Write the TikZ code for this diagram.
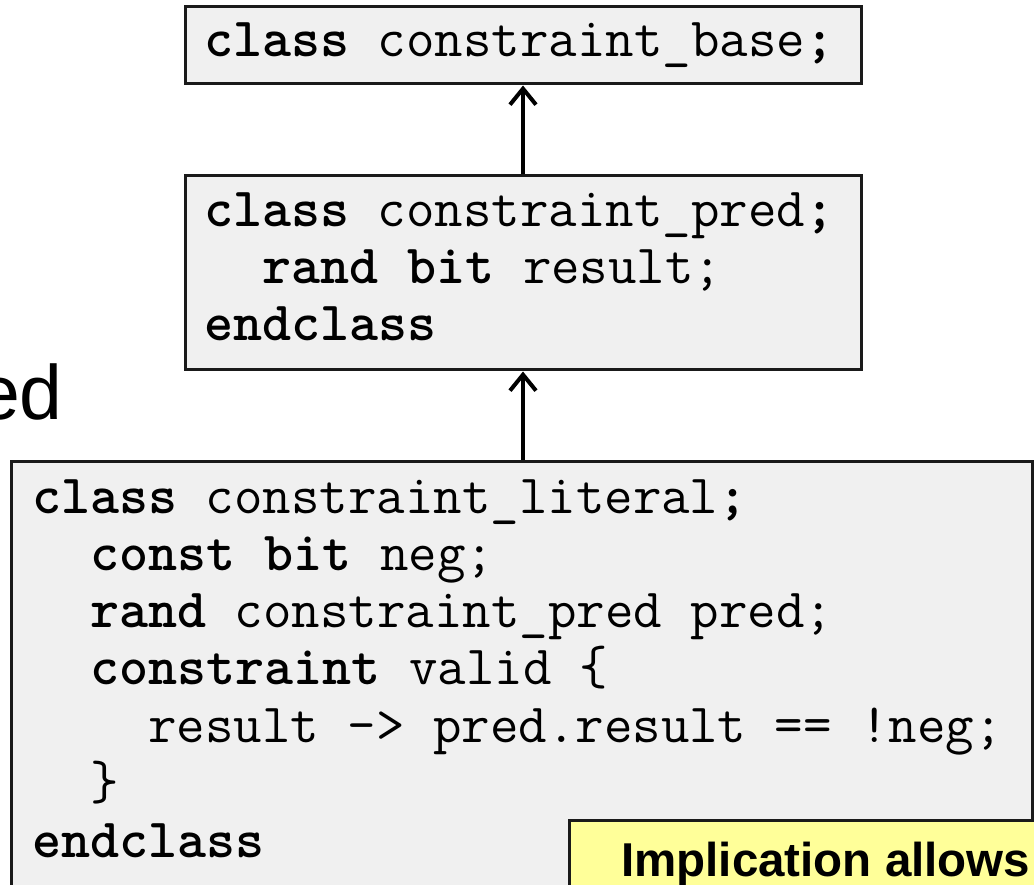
\documentclass[tikz,border=0pt]{standalone}
\usepackage{fontspec}
\setmainfont{Liberation Sans}
\usetikzlibrary{arrows.meta}
\definecolor{boxgray}{HTML}{F0F0F0}
\definecolor{noteyellow}{HTML}{FFFF99}
\definecolor{edgedark}{HTML}{1A1A1A}
\newcommand\codesize{\ttfamily\fontsize{55.3}{57.3}\selectfont}
\begin{document}
\begin{tikzpicture}[x=1pt,y=-1pt,
  codebox/.style={draw=edgedark, line width=3pt, fill=boxgray, inner sep=0pt},
  notebox/.style={draw=edgedark, line width=3pt, fill=noteyellow, inner sep=0pt},
  code/.style={anchor=base west, inner sep=0pt, font=\codesize},
  link/.style={line width=4pt, -{Straight Barb[length=16pt,width=26pt]}},
]
\useasboundingbox (0,0) rectangle (1034,885);
\clip (0,0) rectangle (1034,885);
% boxes
\node[codebox, minimum width=676, minimum height=77] (base) at (523,45.5) {};
\node[codebox, minimum width=676, minimum height=194] (pred) at (523,273) {};
\node[codebox, minimum width=1021, minimum height=460] (lit) at (521.5,691) {};
\node[notebox, minimum width=500, minimum height=90] (note) at (819,865) {};
% title fragment
\node[anchor=base east, inner sep=0pt, font=\fontsize{77}{80}\selectfont] (ed) at (63,420) {ed};
% top box text
\node[code] (t1) at (204,57) {\textbf{class} constraint\_base\textbf{;}};
% middle box text
\node[code] (p1) at (204,227) {\textbf{class} constraint\_pred\textbf{;}};
\node[code] (p2) at (262.1,284) {\textbf{rand bit} result;};
\node[code] (p3) at (204,341) {\textbf{endclass}};
% lower box text
\node[code] (l1) at (32,513) {\textbf{class} constraint\_literal\textbf{;}};
\node[code] (l2) at (90.1,570.3) {\textbf{const bit} neg;};
\node[code] (l3) at (90.1,627.6) {\textbf{rand} constraint\_pred pred;};
\node[code] (l4) at (90.1,684.9) {\textbf{constraint} valid \{};
\node[code] (l5) at (148.2,742.2) {result -> pred.result == !neg;};
\node[code] (l6) at (90.1,799.5) {\}};
\node[code] (l7) at (32,857) {\textbf{endclass}};
% note text
\node[anchor=base west, inner sep=0pt, font=\bfseries\fontsize{47.5}{50}\selectfont] (n1) at (621,876) {Implication allows};
% connectors
\draw[link] (pred.north) -- (base.south);
\draw[link] (lit.north -| pred.south) -- (pred.south);
\end{tikzpicture}
\end{document}
